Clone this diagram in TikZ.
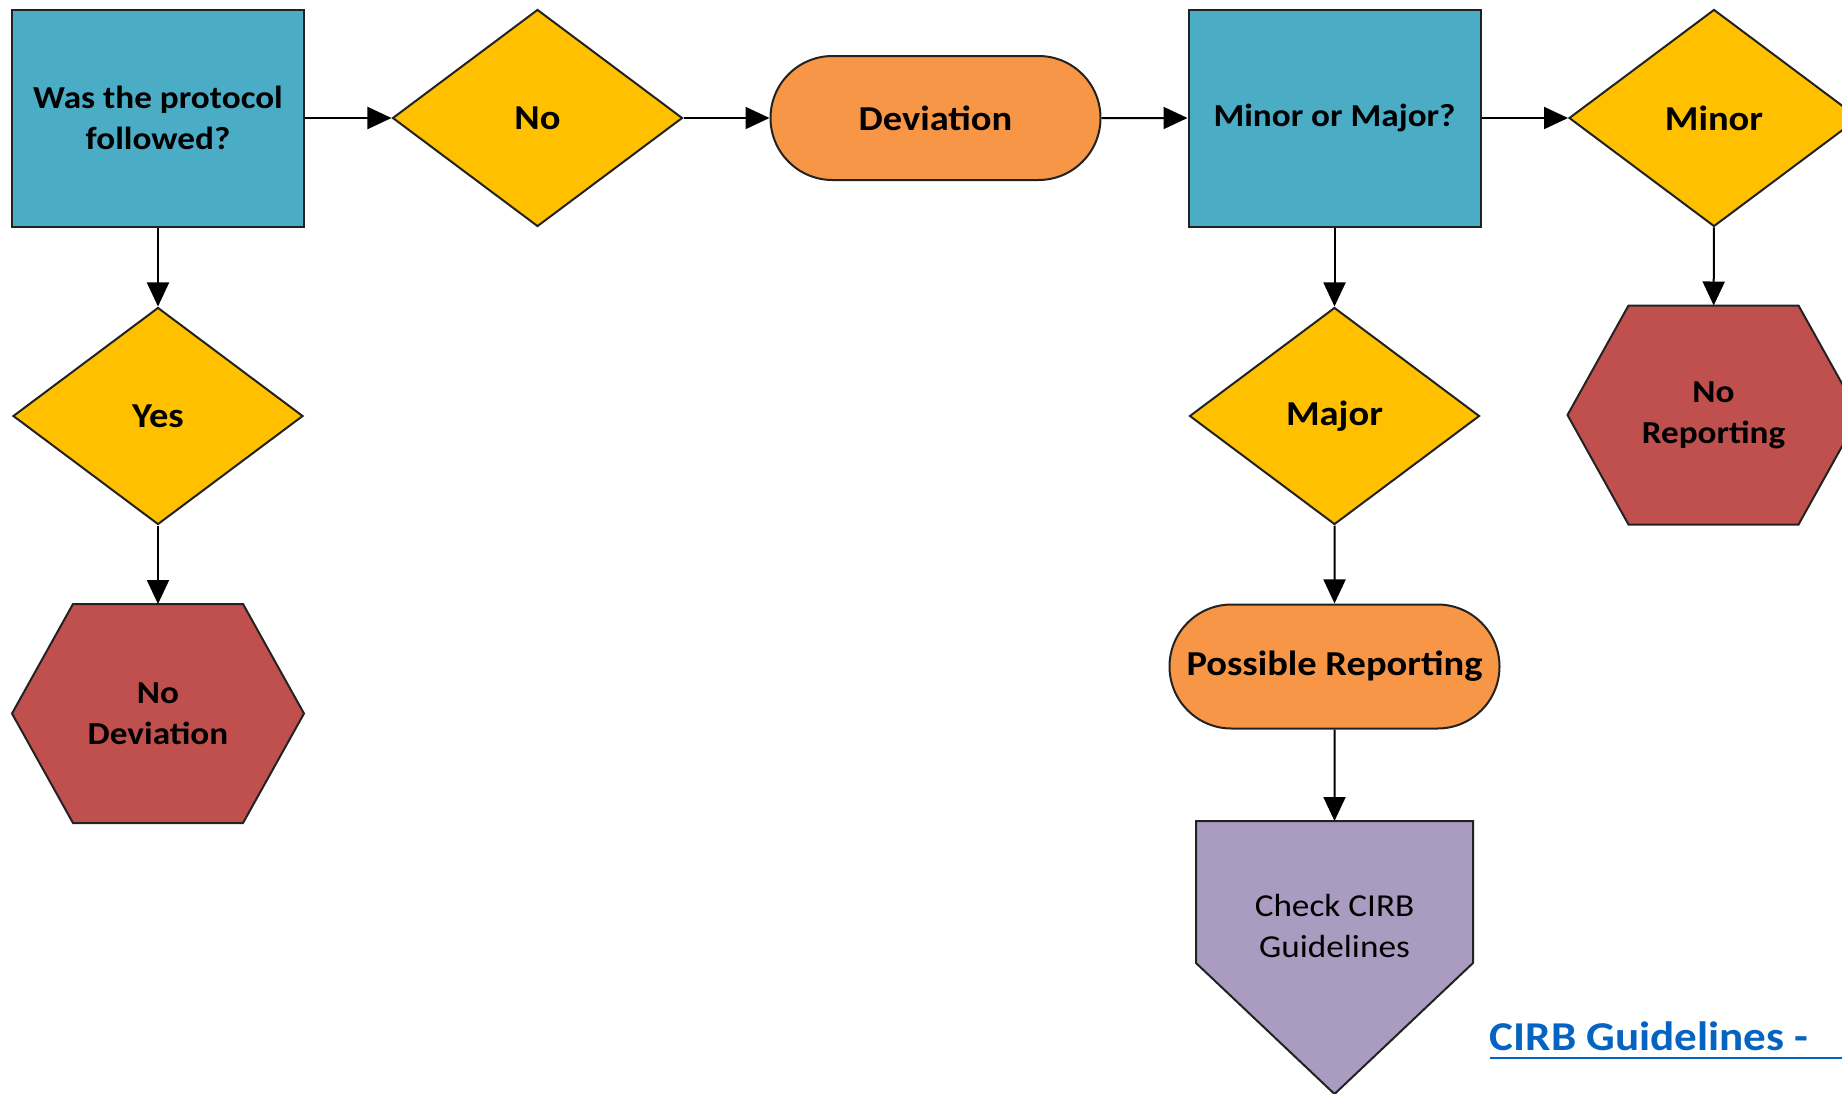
\documentclass[tikz,border=0pt]{standalone}
\usepackage{fontspec}
\setmainfont{Carlito}[FakeStretch=1.1]
\usetikzlibrary{shapes.geometric,shapes.misc,arrows.meta,backgrounds}

\definecolor{outline}{HTML}{222222}
\definecolor{qblue}{HTML}{4BACC6}
\definecolor{ansyellow}{HTML}{FFC000}
\definecolor{termorange}{HTML}{F79646}
\definecolor{endred}{HTML}{C0504D}
\definecolor{pagepurple}{HTML}{AA9BC0}
\definecolor{linkblue}{HTML}{0563C1}

\tikzset{
  base/.style={line width=2pt, inner sep=0pt, align=center,
               font=\fontsize{32}{41}\selectfont\bfseries},
  bigtext/.style={font=\fontsize{35}{41}\selectfont\bfseries},
  question/.style={base, draw=outline, rectangle, fill=qblue,
               minimum width=292pt, minimum height=217pt},
  answer/.style={base, bigtext, draw=outline, diamond, fill=ansyellow,
               minimum width=290pt, minimum height=217pt, shape aspect=1.34},
  term/.style={base, bigtext, draw=outline, rounded rectangle, fill=termorange,
               minimum width=330pt, minimum height=124pt},
  outcome/.style={base, rectangle, minimum width=290pt, minimum height=217pt},
  offpage/.style={base, rectangle, minimum width=275pt, minimum height=271pt},
  flow/.style={line width=2pt, draw=black, -{Triangle[length=24pt,width=22pt]}},
  weblink/.style={inner sep=0pt, text=linkblue,
               font=\fontsize{41}{50}\selectfont\bfseries}
}

\begin{document}
\begin{tikzpicture}[x=1pt,y=-1pt]
\useasboundingbox (0,0) rectangle (1842,1093);
\clip (0,0) rectangle (1842,1093);

% top row
\node[question] (proto) at (158,118) {Was the protocol\\followed?};
\node[answer] (no) at (537.5,118) {No};
\node[term] (dev) at (935.5,118) {Deviation};
\node[question] (minmaj) at (1334.5,118) {Minor or Major?};
\node[answer] (minor) at (1714,118) {Minor};

% left branch
\node[answer] (yes) at (158,416) {Yes};
\node[outcome] (nodev) at (158,713.5) {No\\Deviation};

% right branches
\node[answer] (major) at (1334.5,416) {Major};
\node[outcome] (norep) at (1713.5,415) {No\\Reporting};
\node[term] (posrep) at (1334.5,666.5) {Possible Reporting};
\node[offpage] (check) at (1334.5,957.5) {};
\node[base, font=\fontsize{32}{41}\selectfont] (checktxt)
     at ([yshift=32pt]check.center) {Check CIRB\\Guidelines};

% link, cut off at the right edge
\node[weblink, anchor=base west] (cirb) at (1489.5,1050) {CIRB Guidelines -};
\coordinate (linkend) at (1860,1058);
\draw[linkblue, line width=2.5pt] ([yshift=-8pt]cirb.base west) -- (linkend);

% arrows
\draw[flow] (proto) -- (no);
\draw[flow] (no) -- (dev);
\draw[flow] (dev) -- (minmaj);
\draw[flow] (minmaj) -- (minor);
\draw[flow] (proto) -- (yes);
\draw[flow] (yes) -- (nodev);
\draw[flow] (minmaj) -- (major);
\draw[flow] (minor) -- (norep);
\draw[flow] (major) -- (posrep);
\draw[flow] (posrep) -- (check);

% hexagons and off-page shape behind the text
\begin{scope}[on background layer]
\clip (0,0) rectangle (1842,1093);
\fill[white] (0,0) rectangle (1842,1093);
\foreach \n in {nodev,norep}
  \draw[draw=outline, fill=endred, line width=2pt]
    (\n.west) -- ([xshift=61pt]\n.north west) -- ([xshift=-61pt]\n.north east)
    -- (\n.east) -- ([xshift=-61pt]\n.south east) -- ([xshift=61pt]\n.south west) -- cycle;
\draw[draw=outline, fill=pagepurple, line width=2pt]
  (check.north west) -- (check.north east) -- ([yshift=131pt]check.south east)
  -- (check.south) -- ([yshift=131pt]check.south west) -- cycle;
\end{scope}
\end{tikzpicture}
\end{document}
